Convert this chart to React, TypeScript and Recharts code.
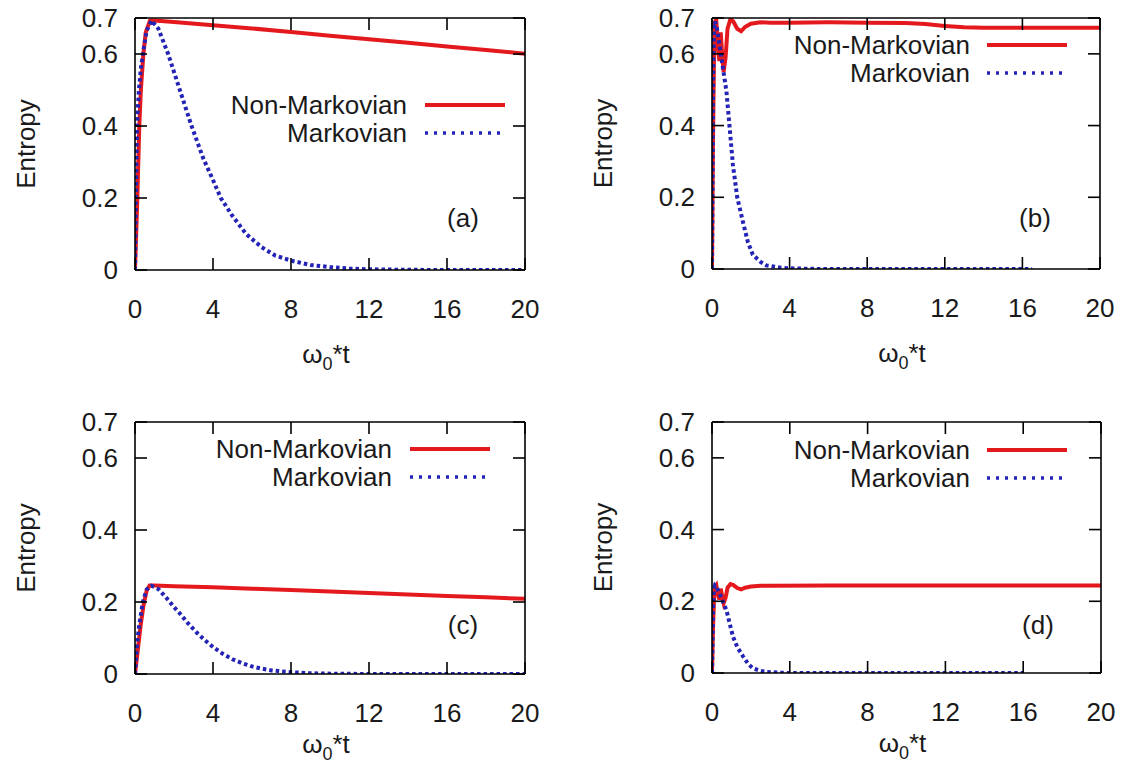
import React from 'react';
import { LineChart, Line, XAxis, YAxis } from 'recharts';

const FONT = '"Liberation Sans", Arial, sans-serif';
const RED = '#e3191e';
const BLUE = '#2323b5';

const xTicks = [0, 4, 8, 12, 16, 20];
const yTicks = [0, 0.2, 0.4, 0.6, 0.7];

// panel (a)
const tNonA = [0, 0.12, 0.22, 0.3, 0.43, 0.55, 0.77, 1, 2, 4, 6, 8, 10, 12, 14, 16, 18, 20];
const nonA = [0, 0.2, 0.4, 0.5, 0.6, 0.66, 0.693, 0.693, 0.689, 0.68, 0.671, 0.661, 0.651, 0.641, 0.631, 0.621, 0.611, 0.601];
const tMarkA = [0, 0.05, 0.1, 0.2, 0.3, 0.46, 0.6, 0.85, 1.2, 1.7, 2.3, 2.9, 3.5, 4, 4.4, 5, 5.7, 6.5, 7.2, 8, 9, 10, 11, 12, 14, 16, 20];
const markA = [0, 0.22, 0.4, 0.5, 0.56, 0.62, 0.665, 0.693, 0.67, 0.6, 0.5, 0.4, 0.31, 0.25, 0.2, 0.15, 0.1, 0.063, 0.04, 0.026, 0.014, 0.008, 0.004, 0.002, 0.0005, 0.0001, 0];

// panel (b)
const tNonB = [0, 0.05, 0.1, 0.15, 0.22, 0.3, 0.38, 0.45, 0.52, 0.6, 0.7, 0.8, 0.95, 1.1, 1.3, 1.5, 1.7, 2, 2.5, 3, 4, 6, 8, 10, 11, 12, 13, 14, 16, 18, 20];
const nonB = [0, 0.35, 0.58, 0.69, 0.695, 0.62, 0.58, 0.66, 0.6, 0.55, 0.59, 0.67, 0.697, 0.69, 0.67, 0.663, 0.675, 0.684, 0.688, 0.687, 0.687, 0.688, 0.687, 0.686, 0.683, 0.678, 0.674, 0.673, 0.673, 0.673, 0.673];
const tMarkB = [0, 0.03, 0.06, 0.1, 0.15, 0.25, 0.4, 0.55, 0.74, 0.9, 1.08, 1.3, 1.6, 1.85, 2.1, 2.5, 2.8, 3.5, 4, 5, 6, 16.5];
const markB = [0, 0.28, 0.54, 0.665, 0.69, 0.673, 0.62, 0.565, 0.497, 0.4, 0.29, 0.2, 0.13, 0.075, 0.04, 0.02, 0.01, 0.004, 0.002, 0.0005, 0, 0];

// panel (c)
const tNonC = [0, 0.15, 0.3, 0.45, 0.6, 0.75, 1, 2, 4, 6, 8, 10, 12, 14, 16, 18, 20];
const nonC = [0, 0.07, 0.14, 0.195, 0.232, 0.246, 0.246, 0.244, 0.241, 0.237, 0.233, 0.229, 0.225, 0.221, 0.217, 0.213, 0.209];
const tMarkC = [0, 0.1, 0.2, 0.4, 0.6, 0.85, 1.2, 1.6, 2, 2.3, 2.7, 3.2, 3.6, 4, 4.5, 5, 5.5, 6, 6.5, 7, 8, 9, 10, 12, 20];
const markC = [0, 0.08, 0.13, 0.2, 0.235, 0.245, 0.236, 0.212, 0.186, 0.168, 0.142, 0.113, 0.093, 0.075, 0.056, 0.041, 0.03, 0.021, 0.015, 0.01, 0.005, 0.002, 0.001, 0, 0];

// panel (d)
const tNonD = [0, 0.05, 0.1, 0.15, 0.22, 0.3, 0.38, 0.45, 0.52, 0.6, 0.7, 0.8, 0.95, 1.1, 1.3, 1.5, 1.7, 2, 2.5, 3, 6, 10, 14, 20];
const nonD = [0, 0.12, 0.2, 0.24, 0.245, 0.22, 0.205, 0.235, 0.215, 0.195, 0.21, 0.238, 0.248, 0.245, 0.237, 0.233, 0.238, 0.241, 0.243, 0.243, 0.244, 0.244, 0.244, 0.244];
const tMarkD = [0, 0.03, 0.06, 0.1, 0.15, 0.25, 0.4, 0.55, 0.74, 0.9, 1.08, 1.3, 1.6, 1.85, 2.1, 2.5, 2.8, 3.5, 4, 16];
const markD = [0, 0.1, 0.19, 0.235, 0.244, 0.238, 0.22, 0.2, 0.176, 0.14, 0.101, 0.072, 0.046, 0.026, 0.013, 0.006, 0.003, 0.001, 0, 0];

const toRows = (ts: number[], vs: number[]) => ts.map((t, i) => ({ t, s: vs[i] }));

const panels = [
  { tag: '(a)', left: 0, top: 0, h: 381, plot: [135, 525, 18, 270], xlabDy: 93, non: toRows(tNonA, nonA), mark: toRows(tMarkA, markA),
    leg: [407, 425, 505, 105, 133], tagAt: [463, 218] },
  { tag: '(b)', left: 562, top: 0, h: 381, plot: [712, 1100, 18, 269], xlabDy: 93, non: toRows(tNonB, nonB), mark: toRows(tMarkB, markB),
    leg: [970, 987, 1067, 45, 73], tagAt: [1035, 218] },
  { tag: '(c)', left: 0, top: 381, h: 382, plot: [135, 525, 422, 674], xlabDy: 79, non: toRows(tNonC, nonC), mark: toRows(tMarkC, markC),
    leg: [392, 410, 490, 449, 477], tagAt: [463, 625] },
  { tag: '(d)', left: 562, top: 381, h: 382, plot: [712, 1101, 422, 673], xlabDy: 79, non: toRows(tNonD, nonD), mark: toRows(tMarkD, markD),
    leg: [970, 987, 1067, 450, 478], tagAt: [1038, 625] },
];

const W = 562;
const YW = 115;
const XH = 80;
const TICK_LEN = 12;
const axisStyle = { stroke: '#000', strokeWidth: 1.6 };

// gnuplot-like ticks: short line pointing into the plot, label outside
const makeTick = (side: string, gap: number, label: boolean) => (props: any) => {
  const { x, y, payload } = props;
  let line: any;
  if (side === 'bottom') line = <line x1={x} x2={x} y1={y - gap} y2={y - gap - TICK_LEN} stroke="#000" strokeWidth={1.6} />;
  else if (side === 'top') line = <line x1={x} x2={x} y1={y + gap} y2={y + gap + TICK_LEN} stroke="#000" strokeWidth={1.6} />;
  else if (side === 'left') line = <line x1={x + gap} x2={x + gap + TICK_LEN} y1={y} y2={y} stroke="#000" strokeWidth={1.6} />;
  else line = <line x1={x - gap} x2={x - gap - TICK_LEN} y1={y} y2={y} stroke="#000" strokeWidth={1.6} />;
  return (
    <g>
      {line}
      {label && (
        <text x={x} y={side === 'bottom' ? y + 9 : y} textAnchor={side === 'left' ? 'end' : 'middle'}
          dominantBaseline="central" fontFamily={FONT} fontSize={26} fill="#1a1a1a">
          {String(payload.value)}
        </text>
      )}
    </g>
  );
};

function Panel({ p }: { p: any }) {
  const [x0, x1, y0, y1] = p.plot;
  const margin = {
    top: y0 - p.top - 1,
    left: x0 - p.left - YW,
    right: p.left + W - x1 - 1,
    bottom: p.top + p.h - y1 - XH,
  };
  const xLabel = (props: any) => {
    const vb = props.viewBox;
    const cx = vb.x + vb.width / 2 - 4;
    const cy = vb.y + p.xlabDy;
    return (
      <text x={cx} y={cy} textAnchor="middle" fontFamily={FONT} fontSize={26} fill="#1a1a1a">
        ω<tspan fontSize={18} dy={7}>0</tspan><tspan dy={-7}>*t</tspan>
      </text>
    );
  };
  const yLabel = (props: any) => {
    const vb = props.viewBox;
    const cx = vb.x + 6;
    const cy = vb.y + vb.height / 2;
    return (
      <text x={cx} y={cy} transform={`rotate(-90, ${cx}, ${cy})`} textAnchor="middle" dominantBaseline="central"
        fontFamily={FONT} fontSize={26} fill="#1a1a1a">Entropy</text>
    );
  };
  return (
    <div style={{ position: 'absolute', left: p.left, top: p.top }}>
      <LineChart width={W} height={p.h} margin={margin}>
        <XAxis xAxisId="b" type="number" dataKey="t" domain={[0, 20]} ticks={xTicks} interval={0}
          orientation="bottom" height={XH} tickSize={0} tickMargin={30} axisLine={axisStyle} tickLine={false}
          tick={makeTick('bottom', 30, true)} allowDataOverflow label={{ content: xLabel }} />
        <XAxis xAxisId="t" type="number" dataKey="t" domain={[0, 20]} ticks={xTicks} interval={0}
          orientation="top" height={1} tickSize={0} tickMargin={2} axisLine={axisStyle} tickLine={false}
          tick={makeTick('top', 2, false)} allowDataOverflow />
        <YAxis yAxisId="l" type="number" domain={[0, 0.7]} ticks={yTicks} interval={0} width={YW}
          tickSize={0} tickMargin={17} axisLine={axisStyle} tickLine={false} tick={makeTick('left', 17, true)}
          allowDataOverflow label={{ content: yLabel }} />
        <YAxis yAxisId="r" orientation="right" type="number" domain={[0, 0.7]} ticks={yTicks} interval={0} width={1}
          tickSize={0} tickMargin={2} axisLine={axisStyle} tickLine={false} tick={makeTick('right', 2, false)}
          allowDataOverflow />
        <Line xAxisId="b" yAxisId="l" data={p.non} dataKey="s" type="linear" stroke={RED} strokeWidth={4}
          dot={false} isAnimationActive={false} />
        <Line xAxisId="b" yAxisId="l" data={p.mark} dataKey="s" type="linear" stroke={BLUE} strokeWidth={4}
          strokeDasharray="3.5 3" dot={false} isAnimationActive={false} />
      </LineChart>
    </div>
  );
}

function Overlay() {
  return (
    <svg width={1124} height={763} style={{ position: 'absolute', left: 0, top: 0, pointerEvents: 'none' }}>
      {panels.map((p) => {
        const [te, l0, l1, r1, r2] = p.leg;
        return (
          <g key={p.tag} fontFamily={FONT} fontSize={26} fill="#1a1a1a">
            <text x={te} y={r1} textAnchor="end" dominantBaseline="central">Non-Markovian</text>
            <line x1={l0} x2={l1} y1={r1} y2={r1} stroke={RED} strokeWidth={4} />
            <text x={te} y={r2} textAnchor="end" dominantBaseline="central">Markovian</text>
            <line x1={l0} x2={l1} y1={r2} y2={r2} stroke={BLUE} strokeWidth={3.5} strokeDasharray="3 6" />
            <text x={p.tagAt[0]} y={p.tagAt[1]} textAnchor="middle" dominantBaseline="central">{p.tag}</text>
          </g>
        );
      })}
    </svg>
  );
}

export default function App() {
  return (
    <div style={{ position: 'absolute', left: 0, top: 0, width: 1124, height: 763, background: '#fff', overflow: 'hidden' }}>
      {panels.map((p) => <Panel key={p.tag} p={p} />)}
      <Overlay />
    </div>
  );
}
